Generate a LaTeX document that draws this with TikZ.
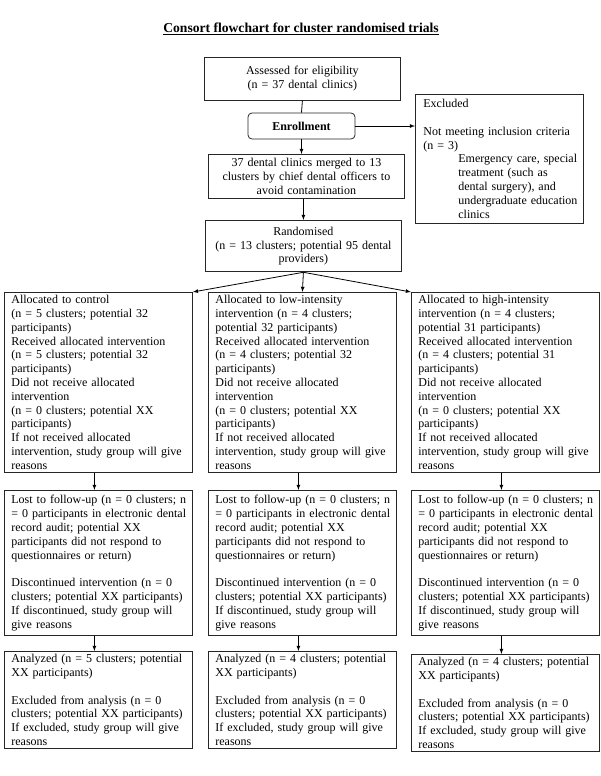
\documentclass[tikz,border=0pt]{standalone}
\usepackage{fontspec}
\setmainfont{Liberation Serif}
\usetikzlibrary{arrows,positioning}
\newcommand{\exind}{\hspace*{35pt}}

\tikzset{
 box/.style={draw=black!85,line width=0.8pt,font=\fontsize{12pt}{13.8pt}\selectfont},
 leftbox/.style={box,align=left,anchor=north west,
  execute at begin node={\hyphenpenalty=10000\rightskip=0pt plus 1fil minus 30pt}},
 topbox/.style={box,align=center,text width=182pt,inner xsep=7pt,anchor=north west,
  execute at begin node={\hyphenpenalty=10000}},
 colbox/.style={leftbox,text width=174pt,inner xsep=7pt,inner ysep=3pt},
}

\begin{document}
\begin{tikzpicture}
 [x=1pt,y=-1pt,>=latex,line width=0.8pt]
 \useasboundingbox (0,0) rectangle (600,776);
 \node[font=\fontsize{13.6pt}{16pt}\selectfont\bfseries] (title) at (301,29)
  {\underline{Consort flowchart for cluster randomised trials}};
 \node[topbox,inner ysep=9pt] (assess) at (204,57)
  {Assessed for eligibility\\(n = 37 dental clinics)};
 \node[draw=black!85,rounded corners=4pt,minimum width=107pt,minimum height=26pt,
  font=\fontsize{12pt}{13.8pt}\selectfont\bfseries] (enroll) at (301.5,126) {Enrollment};
 \node[leftbox,text width=152pt,inner xsep=8pt,inner ysep=5pt] (excl) at (415,94)
  {Excluded\\[13.8pt]Not meeting inclusion criteria\\(n = 3)\\
   \exind Emergency care, special\\\exind treatment (such as\\\exind dental surgery), and\\
   \exind undergraduate education\\\exind clinics};
 \node[topbox,inner ysep=4pt] (merge) at (208,154)
  {37 dental clinics merged to 13\\clusters by chief dental officers to\\avoid contamination};
 \node[topbox,inner ysep=6.5pt] (rand) at (205,220)
  {Randomised\\(n = 13 clusters; potential 95 dental\\providers)};

 % allocation
 \node[colbox] (ctrl) at (4,292)
  {Allocated to control\\(n = 5 clusters; potential 32\\participants)\\
   Received allocated intervention\\(n = 5 clusters; potential 32\\participants)\\
   Did not receive allocated\\intervention\\(n = 0 clusters; potential XX\\participants)\\
   If not received allocated\\intervention, study group will give\\reasons};
 \node[colbox] (low) at (208,292)
  {Allocated to low-intensity\\intervention (n = 4 clusters;\\potential 32 participants)\\
   Received allocated intervention\\(n = 4 clusters; potential 32\\participants)\\
   Did not receive allocated\\intervention\\(n = 0 clusters; potential XX\\participants)\\
   If not received allocated\\intervention, study group will give\\reasons};
 \node[colbox] (high) at (411,292)
  {Allocated to high-intensity\\intervention (n = 4 clusters;\\potential 31 participants)\\
   Received allocated intervention\\(n = 4 clusters; potential 31\\participants)\\
   Did not receive allocated\\intervention\\(n = 0 clusters; potential XX\\participants)\\
   If not received allocated\\intervention, study group will give\\reasons};

 % follow-up
 \node[colbox,inner ysep=5pt] (lostc) at (4,490)
  {Lost to follow-up (n = 0 clusters; n\\= 0 participants in electronic dental\\
   record audit; potential XX\\participants did not respond to\\questionnaires or return)\\[13.8pt]
   Discontinued intervention (n = 0\\clusters; potential XX participants)\\
   If discontinued, study group will\\give reasons};
 \node[colbox,inner ysep=5pt] (lostl) at (208,490)
  {Lost to follow-up (n = 0 clusters; n\\= 0 participants in electronic dental\\
   record audit; potential XX\\participants did not respond to\\questionnaires or return)\\[13.8pt]
   Discontinued intervention (n = 0\\clusters; potential XX participants)\\
   If discontinued, study group will\\give reasons};
 \node[colbox,inner ysep=5pt] (losth) at (411,490)
  {Lost to follow-up (n = 0 clusters; n\\= 0 participants in electronic dental\\
   record audit; potential XX\\participants did not respond to\\questionnaires or return)\\[13.8pt]
   Discontinued intervention (n = 0\\clusters; potential XX participants)\\
   If discontinued, study group will\\give reasons};

 % analysis
 \node[colbox] (anac) at (4,651)
  {Analyzed (n = 5 clusters; potential\\XX participants)\\[13.8pt]
   Excluded from analysis (n = 0\\clusters; potential XX participants)\\
   If excluded, study group will give\\reasons};
 \node[colbox] (anal) at (208,651)
  {Analyzed (n = 4 clusters; potential\\XX participants)\\[13.8pt]
   Excluded from analysis (n = 0\\clusters; potential XX participants)\\
   If excluded, study group will give\\reasons};
 \node[colbox] (anah) at (411,654)
  {Analyzed (n = 4 clusters; potential\\XX participants)\\[13.8pt]
   Excluded from analysis (n = 0\\clusters; potential XX participants)\\
   If excluded, study group will give\\reasons};

 \draw (assess.south) -- (enroll.north);
 \draw[->] (enroll.south) -- (enroll.south |- merge.north);
 \draw[->] (enroll.east) -- (excl.west |- enroll.east);
 \draw[->] (merge.south -| rand.north) -- (rand.north);
 \draw[->] (rand.south) -- (ctrl.north east);
 \draw[->] (rand.south) -- (low.north);
 \draw[->] (rand.south) -- (high.north west);
 \foreach \a/\b in {ctrl/lostc,low/lostl,high/losth,lostc/anac,lostl/anal,losth/anah}
  \draw[->] ([xshift=-4pt]\a.south) -- ([xshift=-4pt]\b.north);
\end{tikzpicture}
\end{document}
